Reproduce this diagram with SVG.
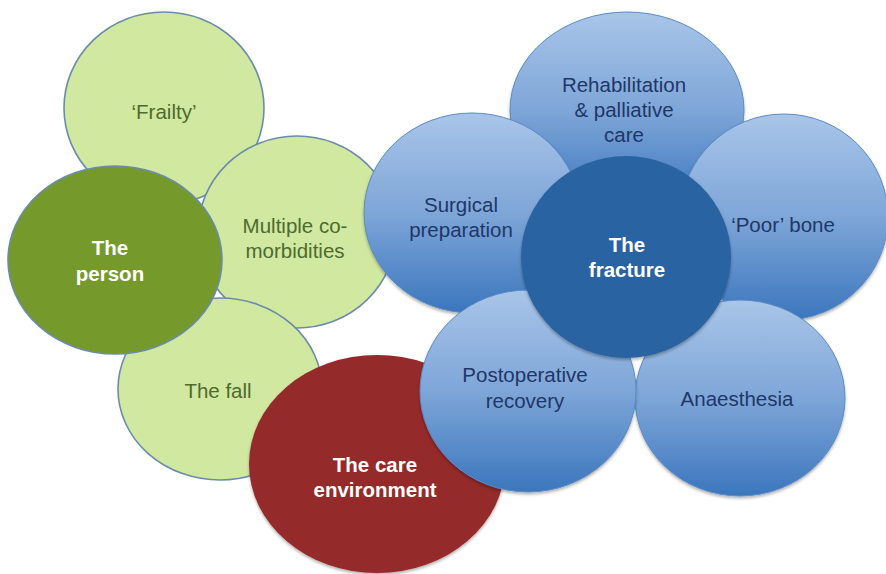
<svg xmlns="http://www.w3.org/2000/svg" width="886" height="574" viewBox="0 0 886 574">
<defs>
<linearGradient id="blueGrad" x1="0" y1="0" x2="0" y2="1">
<stop offset="0" stop-color="#a9c5e9"/>
<stop offset="0.5" stop-color="#7ea6d8"/>
<stop offset="1" stop-color="#3b76bd"/>
</linearGradient>
<filter id="sh" x="-10%" y="-10%" width="120%" height="125%">
<feDropShadow dx="0" dy="2" stdDeviation="1.5" flood-color="#000" flood-opacity="0.3"/>
</filter>
<style>
.lg{fill:#d1e8a0;stroke:#6a8cab;stroke-width:1.6}
.bl{fill:url(#blueGrad);stroke:#5a8bc6;stroke-width:1;filter:url(#sh)}
.t{font-family:"Liberation Sans",Arial,sans-serif;font-size:20.5px;text-anchor:middle}
.tg{fill:#4d6b2e}
.tb{fill:#1f3768}
.tw{fill:#ffffff;font-weight:bold}
</style>
</defs>
<g id="frailty">
<ellipse class="lg" cx="164" cy="108" rx="100" ry="96"/>
<text class="t tg" x="164" y="119">‘Frailty’</text>
</g>
<g id="comorbidities">
<ellipse class="lg" cx="297" cy="232" rx="99" ry="96"/>
<text class="t tg" x="295" y="233">Multiple co-</text>
<text class="t tg" x="295" y="258">morbidities</text>
</g>
<g id="fall">
<ellipse class="lg" cx="220" cy="389" rx="102" ry="91"/>
<text class="t tg" x="218" y="398">The fall</text>
</g>
<g id="person">
<ellipse cx="115" cy="260" rx="107" ry="94" fill="#76992b" stroke="#6a8cab" stroke-width="1.6"/>
<text class="t tw" x="110" y="255">The</text>
<text class="t tw" x="110" y="281">person</text>
</g>
<g id="rehab">
<ellipse class="bl" cx="627" cy="110" rx="117" ry="98"/>
<text class="t tb" x="624" y="92">Rehabilitation</text>
<text class="t tb" x="624" y="117">&amp; palliative</text>
<text class="t tb" x="624" y="142">care</text>
</g>
<g id="surgical">
<ellipse class="bl" cx="472" cy="213" rx="108" ry="100"/>
<text class="t tb" x="461" y="212">Surgical</text>
<text class="t tb" x="461" y="237">preparation</text>
</g>
<g id="poorbone">
<ellipse class="bl" cx="784" cy="217" rx="104" ry="103"/>
<text class="t tb" x="783" y="232">‘Poor’ bone</text>
</g>
<g id="anaesthesia">
<ellipse class="bl" cx="740" cy="398" rx="105" ry="98"/>
<text class="t tb" x="737" y="406">Anaesthesia</text>
</g>
<g id="care">
<ellipse cx="377" cy="464" rx="128" ry="109" fill="#952a2c" filter="url(#sh)"/>
<text class="t tw" x="375" y="472">The care</text>
<text class="t tw" x="375" y="497">environment</text>
</g>
<g id="postop">
<ellipse class="bl" cx="528" cy="391" rx="108" ry="101"/>
<text class="t tb" x="525" y="382">Postoperative</text>
<text class="t tb" x="525" y="408">recovery</text>
</g>
<g id="fracture">
<ellipse cx="626" cy="257" rx="105" ry="101" fill="#2a63a1" filter="url(#sh)"/>
<text class="t tw" x="627" y="252">The</text>
<text class="t tw" x="627" y="277">fracture</text>
</g>
<g id="connectors"/>
</svg>
